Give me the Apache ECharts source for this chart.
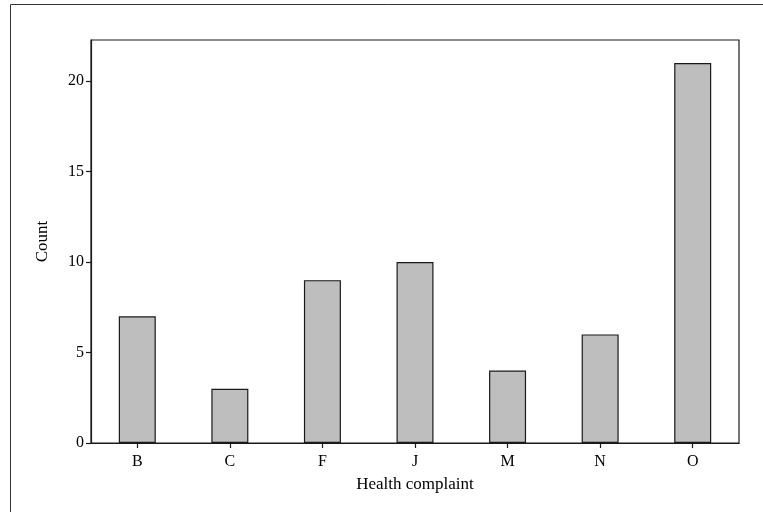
<!DOCTYPE html>
<html>
<head>
<meta charset="utf-8">
<script src="https://cdn.jsdelivr.net/npm/echarts@6/dist/echarts.min.js"></script>
<style>
  html, body { margin: 0; padding: 0; background: #fff; }
  #chart { width: 763px; height: 512px; }
</style>
</head>
<body>
<div id="chart"></div>
<script>
// data
const categories = ['B', 'C', 'F', 'J', 'M', 'N', 'O'];
const counts = [7, 3, 9, 10, 4, 6, 21];
const yTicks = [0, 5, 10, 15, 20];

const font = 'Liberation Serif';
const ink = '#1a1a1a';

const chart = echarts.init(document.getElementById('chart'));

const option = {
  backgroundColor: '#fff',
  animation: false,
  textStyle: { fontFamily: font, color: '#000' },
  graphic: [
    {
      type: 'rect',
      shape: { x: 10.5, y: 4.5, width: 800, height: 600 },
      style: { fill: 'none', stroke: '#333', lineWidth: 1 },
      z: -1
    }
  ],
  grid: {
    left: 91,
    right: 24,
    top: 40,
    bottom: 69,
    show: true,
    borderColor: ink,
    borderWidth: 1.2,
    backgroundColor: '#fff'
  },
  xAxis: {
    type: 'category',
    data: categories,
    name: 'Health complaint',
    nameLocation: 'middle',
    nameGap: 33,
    nameTextStyle: { fontFamily: font, fontSize: 17, color: '#000' },
    axisLine: { show: true, lineStyle: { color: ink, width: 1.2 } },
    axisTick: { show: true, alignWithLabel: true, length: 5, lineStyle: { color: ink, width: 1.2 } },
    axisLabel: { fontFamily: font, fontSize: 16, color: '#000', margin: 11 },
    splitLine: { show: false }
  },
  yAxis: {
    type: 'value',
    min: 0,
    max: 22.27,
    interval: 5,
    name: 'Count',
    nameLocation: 'middle',
    nameGap: 40,
    nameTextStyle: { fontFamily: font, fontSize: 17, color: '#000' },
    axisLine: { show: true, lineStyle: { color: ink, width: 1.2 } },
    axisTick: { show: true, length: 5, lineStyle: { color: ink, width: 1.2 }, customValues: yTicks },
    axisLabel: { fontFamily: font, fontSize: 16, color: '#000', margin: 7, customValues: yTicks },
    splitLine: { show: false }
  },
  series: [
    {
      type: 'bar',
      data: counts,
      barWidth: 37,
      itemStyle: { color: '#bebebe', borderColor: ink, borderWidth: 1.2 }
    }
  ]
};

chart.setOption(option);
</script>
</body>
</html>
